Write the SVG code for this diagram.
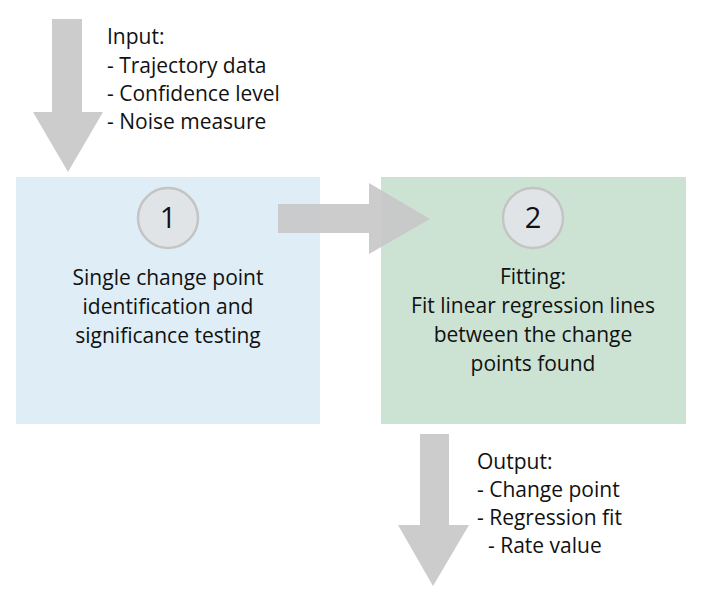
<svg xmlns="http://www.w3.org/2000/svg" width="708" height="596" viewBox="0 0 708 596">
<style>
.t{font-family:"Open Sans","Liberation Sans",sans-serif;font-size:21px;fill:#111111}
.c{text-anchor:middle}
.num{font-family:"Open Sans","Liberation Sans",sans-serif;font-size:29px;fill:#111111;text-anchor:middle}
.arrow{fill:#c8c8c8;opacity:0.92}
.circ{fill:#e1e4e6;stroke:#c4c4c4;stroke-width:2.5}
</style>
<rect width="708" height="596" fill="#ffffff"/>
<g id="node1">
<rect x="16" y="177" width="304" height="247" fill="#deedf6"/>
<circle class="circ" cx="168" cy="218" r="30"/>
<text class="num" x="168" y="228">1</text>
<text class="t c" x="168" y="285">Single change point</text>
<text class="t c" x="168" y="314">identification and</text>
<text class="t c" x="168" y="343">significance testing</text>
</g>
<g id="node2">
<rect x="381" y="177" width="305" height="247" fill="#cce3d4"/>
<circle class="circ" cx="533" cy="218" r="30"/>
<text class="num" x="533" y="228">2</text>
<text class="t c" x="533" y="284">Fitting:</text>
<text class="t c" x="533" y="313">Fit linear regression lines</text>
<text class="t c" x="533" y="342">between the change</text>
<text class="t c" x="533" y="371">points found</text>
</g>
<g id="input">
<text class="t" x="107" y="44">Input:</text>
<text class="t" x="107" y="73">- Trajectory data</text>
<text class="t" x="107" y="101">- Confidence level</text>
<text class="t" x="107" y="129">- Noise measure</text>
</g>
<g id="output">
<text class="t" x="477" y="469">Output:</text>
<text class="t" x="477" y="497">- Change point</text>
<text class="t" x="477" y="525">- Regression fit</text>
<text class="t" x="488" y="553">- Rate value</text>
</g>
<g id="connectors">
<polygon class="arrow" points="52,19 82,19 82,112 103,112 68,172 33,112 52,112"/>
<polygon class="arrow" points="278,204 369,204 369,183 430,219 369,254 369,233 278,233"/>
<polygon class="arrow" points="420,434 449,434 449,525 469,525 433,586 398,525 420,525"/>
</g>
</svg>
